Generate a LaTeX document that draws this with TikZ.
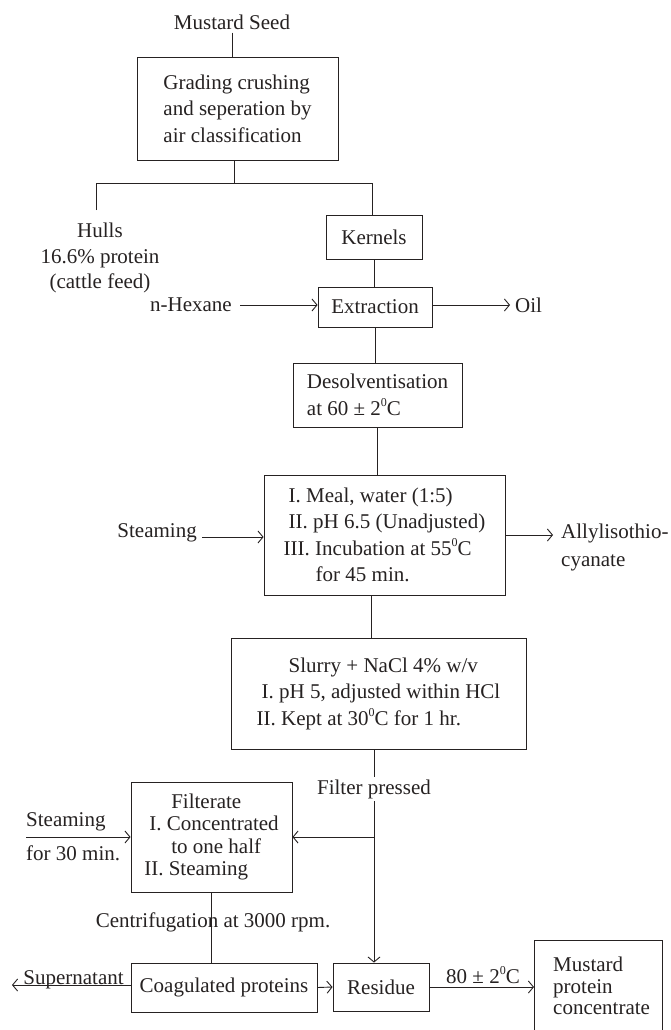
\documentclass[tikz,border=0pt]{standalone}
\usepackage{fontspec}
\setmainfont{Liberation Serif}
\usetikzlibrary{arrows.meta}
\definecolor{ink}{RGB}{38,34,34}
\newcommand\mydegc{\raisebox{0.42em}{\fontsize{12}{12}\selectfont 0}C}
\begin{document}
\begin{tikzpicture}[x=1pt,y=-1pt,
  every node/.style={font=\fontsize{21}{26.5}\selectfont, text=ink, inner sep=0pt},
  box/.style={draw=ink, line width=0.9pt, align=left},
  ln/.style={draw=ink, line width=0.9pt},
  arr/.style={ln, -{Straight Barb[length=5pt,width=12pt]}},
  lbl/.style={fill=white, inner sep=2pt}
]
\fill[white] (0,0) rectangle (671,1030);
\useasboundingbox (0,0) rectangle (671,1030);

% nodes
\node (seed) at (232,22) {Mustard Seed};
\node[box, minimum width=201, minimum height=103] (grade) at (237.5,108.5)
  {Grading crushing\\and seperation by\\air classification};
\node[align=center, font=\fontsize{21}{25.5}\selectfont] (hulls) at (100,258)
  {Hulls\\16.6\% protein\\(cattle feed)};
\node[box, minimum width=96, minimum height=44] (kern) at (374,237) {Kernels};
\node[box, minimum width=114, minimum height=40] (extr) at (375,307) {Extraction};
\node[anchor=east] (hex) at (232,305) {n-Hexane};
\node[anchor=west] (oil) at (515,305) {Oil};
\node[box, minimum width=169, minimum height=64] (desolv) at (377.5,395)
  {Desolventisation\\at 60 ± 2\mydegc};
\node[box, minimum width=241, minimum height=120] (meal) at (384.5,535)
  {\hspace*{5pt}I. Meal, water (1:5)\\\hspace*{5pt}II. pH 6.5 (Unadjusted)\\III. Incubation at 55\mydegc\\\hspace*{32pt}for 45 min.};
\node[anchor=east] (steam) at (197,533) {Steaming};
\node[anchor=west, align=left, font=\fontsize{21}{28}\selectfont] (allyl) at (561,547) {Allylisothio-\\cyanate};
\node[box, minimum width=295, minimum height=111] (slurry) at (378.5,693.5)
  {\hspace*{32pt}Slurry + NaCl 4\% w/v\\\hspace*{5pt}I. pH 5, adjusted within HCl\\II. Kept at 30\mydegc{} for 1 hr.};
\node[box, minimum width=161, minimum height=110, font=\fontsize{21}{22.5}\selectfont] (filt) at (211.5,837)
  {\hspace*{27pt}Filterate\\\hspace*{5pt}I. Concentrated\\\hspace*{27pt}to one half\\II. Steaming};
\node[anchor=base west] (steam2) at (26,826) {Steaming};
\node[anchor=base west] (for30) at (26,860) {for 30 min.};
\node[box, minimum width=186, minimum height=49] (coag) at (224,987.5) {Coagulated proteins};
\node[box, minimum width=96, minimum height=48] (resid) at (381,987) {Residue};
\node[anchor=base] (supt) at (73.5,984) {Supernatant};
\node[anchor=north west, minimum width=128, minimum height=92, align=left, text width=128,
  font=\fontsize{21}{21.5}\selectfont] (conc) at (534,940)
  {\hspace*{19pt}Mustard\\\hspace*{19pt}protein\\\hspace*{19pt}concentrate};
\node (temp) at (483,975) {80 ± 2\mydegc};

% coordinates
\coordinate (sp) at (234,183);
\coordinate (hl) at (96,183);
\coordinate (hend) at (96,210);
\coordinate (kr) at (372,183);
\coordinate (ms) at (371,0);
\coordinate (fj) at (374,837);
\coordinate (s2) at (26,837);
\coordinate (sup) at (12,985);

% connectors
\draw[ln] ([yshift=-3pt]seed.south) -- (seed.south |- grade.north);
\draw[ln] (grade.south -| sp) -- (sp);
\draw[ln] (hend) -- (hl) -- (kr) -- (kern.north -| kr);
\draw[ln] (kern.south) -- (kern.south |- extr.north);
\draw[arr] ([xshift=8pt]hex.east) -- (hex.east -| extr.west);
\draw[arr] (extr.east |- oil.west) -- ([xshift=-5pt]oil.west);
\draw[ln] (extr.south) -- (extr.south |- desolv.north);
\draw[ln] (desolv.south) -- (desolv.south |- meal.north);
\draw[arr] ([xshift=5pt,yshift=-4pt]steam.east) -- ([yshift=-4pt]steam.east -| meal.west);
\draw[arr] (meal.east) -- ([xshift=-8pt]meal.east -| allyl.west);
\draw[ln] (meal.south -| ms) -- (slurry.north -| ms);
\draw[arr] (slurry.south -| fj) -- (fj |- resid.north);
\draw[arr] (fj) -- (fj -| filt.east);
\draw[arr] (s2) -- (filt.west);
\draw[ln] (filt.south) -- (filt.south |- coag.north);
\draw[arr] (coag.west |- sup) -- (sup);
\draw[arr] (coag.east) -- (resid.west);
\draw[arr] (resid.east) -- (resid.east -| conc.west);
\draw[ln] (conc.south west) -- (conc.north west) -- (conc.north east) -- (conc.south east);

% labels on connectors
\node[lbl] (fp) at (374,789) {Filter pressed};
\node (cent) at (213,922) {Centrifugation at 3000 rpm.};
\end{tikzpicture}
\end{document}
